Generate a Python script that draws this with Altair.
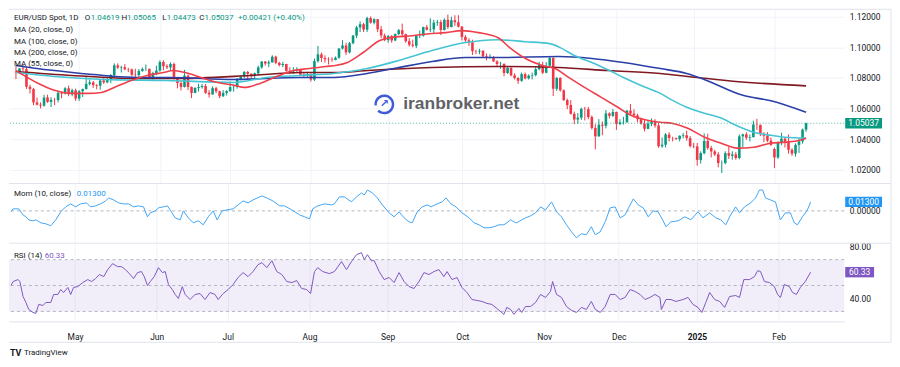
import altair as alt
import pandas as pd

FONT = "Roboto"
DARK = "#131722"
UP = "#089981"
DOWN = "#f23645"

# ---- daily candles (open, high, low, close), one small list per month ----
apr = [(1.0840,1.0876,1.0792,1.0837),(1.0837,1.0865,1.0826,1.0862),(1.0862,1.0885,1.0845,1.0857),
       (1.0857,1.0870,1.0728,1.0742),(1.0742,1.0756,1.0698,1.0727),(1.0727,1.0735,1.0622,1.0640),
       (1.0640,1.0672,1.0620,1.0625),(1.0625,1.0640,1.0601,1.0619),(1.0619,1.0690,1.0612,1.0672),
       (1.0672,1.0690,1.0637,1.0643),(1.0643,1.0674,1.0610,1.0656),(1.0656,1.0670,1.0622,1.0655),
       (1.0655,1.0713,1.0640,1.0702),(1.0702,1.0710,1.0666,1.0697),(1.0697,1.0740,1.0692,1.0732),
       (1.0732,1.0750,1.0680,1.0693),(1.0693,1.0730,1.0680,1.0719),(1.0719,1.0730,1.0650,1.0665)]
may = [(1.0665,1.0720,1.0650,1.0713),(1.0713,1.0730,1.0675,1.0727),(1.0727,1.0812,1.0725,1.0761),
       (1.0761,1.0790,1.0750,1.0771),(1.0771,1.0780,1.0735,1.0753),(1.0753,1.0760,1.0725,1.0749),
       (1.0749,1.0790,1.0723,1.0783),(1.0783,1.0805,1.0760,1.0771),(1.0771,1.0800,1.0765,1.0790),
       (1.0790,1.0825,1.0765,1.0819),(1.0819,1.0895,1.0812,1.0882),(1.0882,1.0895,1.0858,1.0867),
       (1.0867,1.0880,1.0835,1.0870),(1.0870,1.0890,1.0850,1.0857),(1.0857,1.0866,1.0838,1.0855),
       (1.0855,1.0862,1.0812,1.0821),(1.0821,1.0860,1.0806,1.0818),(1.0818,1.0858,1.0805,1.0846),
       (1.0846,1.0868,1.0840,1.0858),(1.0858,1.0888,1.0846,1.0859),(1.0859,1.0862,1.0790,1.0800),
       (1.0800,1.0840,1.0788,1.0832),(1.0832,1.0880,1.0818,1.0848)]
jun = [(1.0848,1.0915,1.0840,1.0904),(1.0904,1.0916,1.0850,1.0877),(1.0877,1.0890,1.0858,1.0869),
       (1.0869,1.0902,1.0852,1.0891),(1.0891,1.0900,1.0790,1.0800),(1.0800,1.0802,1.0732,1.0766),
       (1.0766,1.0780,1.0718,1.0741),(1.0741,1.0852,1.0737,1.0815),(1.0815,1.0823,1.0720,1.0741),
       (1.0741,1.0744,1.0668,1.0702),(1.0702,1.0740,1.0700,1.0734),(1.0734,1.0762,1.0711,1.0740),
       (1.0740,1.0760,1.0730,1.0747),(1.0747,1.0760,1.0695,1.0703),(1.0703,1.0720,1.0672,1.0692),
       (1.0692,1.0745,1.0690,1.0733),(1.0733,1.0742,1.0700,1.0713),(1.0713,1.0717,1.0667,1.0680),
       (1.0680,1.0720,1.0675,1.0702),(1.0702,1.0720,1.0685,1.0713)]
jul = [(1.0713,1.0776,1.0710,1.0740),(1.0740,1.0750,1.0710,1.0741),(1.0741,1.0800,1.0730,1.0791),
       (1.0791,1.0816,1.0785,1.0810),(1.0810,1.0845,1.0800,1.0839),(1.0839,1.0845,1.0790,1.0827),
       (1.0827,1.0830,1.0800,1.0813),(1.0813,1.0835,1.0800,1.0830),(1.0830,1.0880,1.0815,1.0869),
       (1.0869,1.0910,1.0860,1.0907),(1.0907,1.0910,1.0880,1.0894),(1.0894,1.0915,1.0870,1.0902),
       (1.0902,1.0948,1.0900,1.0939),(1.0939,1.0945,1.0890,1.0899),(1.0899,1.0905,1.0875,1.0884),
       (1.0884,1.0905,1.0870,1.0891),(1.0891,1.0892,1.0840,1.0846),(1.0846,1.0870,1.0825,1.0843),
       (1.0843,1.0870,1.0825,1.0850),(1.0850,1.0870,1.0840,1.0856),(1.0856,1.0860,1.0812,1.0821),
       (1.0821,1.0833,1.0800,1.0817),(1.0817,1.0840,1.0800,1.0825)]
aug = [(1.0825,1.0830,1.0776,1.0789),(1.0789,1.0927,1.0780,1.0910),(1.0910,1.1009,1.0900,1.0954),
       (1.0954,1.0966,1.0904,1.0930),(1.0930,1.0948,1.0900,1.0922),(1.0922,1.0935,1.0888,1.0920),
       (1.0920,1.0935,1.0905,1.0917),(1.0917,1.0940,1.0915,1.0932),(1.0932,1.0995,1.0925,1.0992),
       (1.0992,1.1047,1.0985,1.1012),(1.1012,1.1030,1.0950,1.0967),(1.0967,1.1035,1.0960,1.1027),
       (1.1027,1.1080,1.1020,1.1077),(1.1077,1.1140,1.1060,1.1130),(1.1130,1.1170,1.1100,1.1151),
       (1.1151,1.1160,1.1100,1.1116),(1.1116,1.1200,1.1100,1.1192),(1.1192,1.1202,1.1155,1.1161),
       (1.1161,1.1190,1.1150,1.1184),(1.1184,1.1185,1.1100,1.1118),(1.1118,1.1140,1.1060,1.1077),
       (1.1077,1.1090,1.1040,1.1047)]
sep = [(1.1047,1.1080,1.1030,1.1074),(1.1074,1.1080,1.1030,1.1045),(1.1045,1.1090,1.1040,1.1087),
       (1.1087,1.1120,1.1080,1.1112),(1.1112,1.1155,1.1070,1.1086),(1.1086,1.1090,1.1030,1.1040),
       (1.1040,1.1060,1.1005,1.1017),(1.1017,1.1050,1.1000,1.1010),(1.1010,1.1080,1.0995,1.1075),
       (1.1075,1.1110,1.1060,1.1076),(1.1076,1.1135,1.1070,1.1132),(1.1132,1.1147,1.1110,1.1115),
       (1.1115,1.1190,1.1100,1.1118),(1.1118,1.1180,1.1090,1.1161),(1.1161,1.1180,1.1140,1.1165),
       (1.1165,1.1180,1.1080,1.1113),(1.1113,1.1190,1.1110,1.1180),(1.1180,1.1214,1.1120,1.1133),
       (1.1133,1.1200,1.1130,1.1177),(1.1177,1.1210,1.1140,1.1164),(1.1164,1.1210,1.1130,1.1135)]
octo = [(1.1135,1.1140,1.1045,1.1068),(1.1068,1.1080,1.1030,1.1046),(1.1046,1.1060,1.1010,1.1032),
        (1.1032,1.1050,1.0950,1.0975),(1.0975,1.0985,1.0955,1.0973),(1.0973,1.0990,1.0955,1.0978),
        (1.0978,1.0980,1.0935,1.0941),(1.0941,1.0960,1.0915,1.0936),(1.0936,1.0955,1.0925,1.0937),
        (1.0937,1.0942,1.0905,1.0908),(1.0908,1.0915,1.0870,1.0891),(1.0891,1.0905,1.0860,1.0892),
        (1.0892,1.0895,1.0810,1.0832),(1.0832,1.0870,1.0825,1.0866),(1.0866,1.0868,1.0810,1.0817),
        (1.0817,1.0830,1.0790,1.0799),(1.0799,1.0805,1.0761,1.0781),(1.0781,1.0835,1.0775,1.0825),
        (1.0825,1.0835,1.0790,1.0797),(1.0797,1.0823,1.0790,1.0815),(1.0815,1.0835,1.0790,1.0818),
        (1.0818,1.0870,1.0810,1.0857),(1.0857,1.0905,1.0850,1.0885)]
nov = [(1.0885,1.0905,1.0825,1.0834),(1.0834,1.0903,1.0830,1.0880),(1.0880,1.0937,1.0870,1.0930),
       (1.0930,1.0935,1.0682,1.0729),(1.0729,1.0805,1.0715,1.0800),(1.0800,1.0805,1.0710,1.0719),
       (1.0719,1.0725,1.0650,1.0655),(1.0655,1.0665,1.0595,1.0623),(1.0623,1.0655,1.0560,1.0565),
       (1.0565,1.0580,1.0497,1.0528),(1.0528,1.0570,1.0500,1.0540),(1.0540,1.0605,1.0525,1.0598),
       (1.0598,1.0610,1.0522,1.0596),(1.0596,1.0610,1.0530,1.0544),(1.0544,1.0555,1.0462,1.0473),
       (1.0473,1.0497,1.0333,1.0418),(1.0418,1.0530,1.0415,1.0494),(1.0494,1.0515,1.0425,1.0487),
       (1.0487,1.0590,1.0470,1.0568),(1.0568,1.0575,1.0535,1.0552),(1.0552,1.0597,1.0545,1.0577)]
dec = [(1.0577,1.0580,1.0460,1.0499),(1.0499,1.0530,1.0490,1.0510),(1.0510,1.0545,1.0495,1.0512),
       (1.0512,1.0590,1.0505,1.0586),(1.0586,1.0630,1.0555,1.0567),(1.0567,1.0595,1.0540,1.0555),
       (1.0555,1.0565,1.0510,1.0530),(1.0530,1.0540,1.0495,1.0501),(1.0501,1.0525,1.0450,1.0467),
       (1.0467,1.0525,1.0465,1.0501),(1.0501,1.0535,1.0485,1.0515),(1.0515,1.0530,1.0475,1.0489),
       (1.0489,1.0507,1.0343,1.0353),(1.0353,1.0410,1.0343,1.0363),(1.0363,1.0440,1.0345,1.0430),
       (1.0430,1.0445,1.0385,1.0407),(1.0407,1.0415,1.0385,1.0406),(1.0406,1.0410,1.0395,1.0400),
       (1.0400,1.0425,1.0385,1.0421),(1.0421,1.0440,1.0405,1.0425),(1.0425,1.0455,1.0390,1.0406),
       (1.0406,1.0420,1.0345,1.0354)]
jan = [(1.0354,1.0375,1.0340,1.0352),(1.0352,1.0375,1.0226,1.0264),(1.0264,1.0320,1.0240,1.0308),
       (1.0308,1.0437,1.0300,1.0388),(1.0388,1.0435,1.0330,1.0342),(1.0342,1.0355,1.0280,1.0319),
       (1.0319,1.0330,1.0290,1.0300),(1.0300,1.0315,1.0215,1.0243),(1.0243,1.0260,1.0178,1.0244),
       (1.0244,1.0320,1.0235,1.0308),(1.0308,1.0350,1.0270,1.0291),(1.0291,1.0320,1.0265,1.0300),
       (1.0300,1.0315,1.0265,1.0276),(1.0276,1.0430,1.0268,1.0418),(1.0418,1.0435,1.0345,1.0431),
       (1.0431,1.0445,1.0395,1.0409),(1.0409,1.0430,1.0385,1.0413),(1.0413,1.0520,1.0410,1.0495),
       (1.0495,1.0533,1.0460,1.0493),(1.0493,1.0495,1.0420,1.0432),(1.0432,1.0445,1.0380,1.0422),
       (1.0422,1.0445,1.0380,1.0390),(1.0390,1.0410,1.0355,1.0362)]
feb = [(1.0335,1.0345,1.0210,1.0280),(1.0280,1.0385,1.0270,1.0375),(1.0375,1.0442,1.0360,1.0403),
       (1.0403,1.0410,1.0345,1.0382),(1.0382,1.0430,1.0305,1.0330),(1.0330,1.0340,1.0290,1.0305),
       (1.0305,1.0372,1.0285,1.0362),(1.0362,1.0405,1.0310,1.0385),(1.0385,1.0468,1.0370,1.04616),
       (1.04619,1.05065,1.04473,1.05037)]

# ---- moving averages: (bar index, value) ----
ma20 = [(0,1.0848),(6.4,1.0764),(11.2,1.0718),(16,1.0699),(20.4,1.0699),(24.4,1.0705),(28,1.0738),
        (32.8,1.0783),(37.3,1.0816),(42,1.0835),(44.8,1.0848),(48.2,1.0835),(52.7,1.0803),(57.4,1.0770),
        (62.2,1.0751),(65,1.0738),(69.5,1.0764),(74.2,1.0809),(79,1.0848),(83.5,1.0861),(88.2,1.0875),
        (91,1.0881),(94.4,1.0901),(98.9,1.0966),(103.6,1.1044),(106.4,1.1063),(112.9,1.1076),
        (117.6,1.1089),(122.4,1.1096),(126.9,1.1109),(131.7,1.1096),(137.3,1.1063),(140.6,1.0998),
        (145.1,1.0927),(149.9,1.0881),(153.5,1.0861),(157.4,1.0803),(161.9,1.0738),(166.7,1.0673),
        (171.4,1.0608),(175.1,1.0556),(179.8,1.0523),(183.5,1.0510),(186.8,1.0503),(191.3,1.0471),
        (196.1,1.0412),(200.8,1.0373),(205.3,1.0341),(210.1,1.0347),(214.8,1.0373),(219.3,1.0380),
        (223.2,1.0393),(225,1.0406)]
ma55 = [(0,1.0835),(11,1.0809),(25,1.0790),(43,1.0783),(62,1.0770),(71.4,1.0803),(81,1.0816),
        (90.5,1.0829),(100,1.0861),(109,1.0914),(118.5,1.0979),(128,1.1031),(137,1.1050),(145,1.1037),
        (152,1.1024),(155,1.0998),(159,1.0946),(164,1.0901),(169,1.0848),(173,1.0803),(178,1.0751),
        (183.5,1.0699),(187,1.0653),(191,1.0608),(196,1.0569),(201,1.0536),(205,1.0490),(210,1.0445),
        (215,1.0425),(219,1.0412),(225,1.0406)]
ma100 = [(0,1.0881),(6,1.0861),(16,1.0835),(25,1.0816),(34.5,1.0803),(43.4,1.0803),(62,1.0790),
         (81,1.0803),(90.5,1.0803),(100,1.0829),(109,1.0868),(118.5,1.0907),(128,1.0933),(137,1.0933),
         (154.6,1.0940),(164,1.0927),(173,1.0901),(183.5,1.0861),(191,1.0829),(196,1.0790),
         (207,1.0686),(215,1.0650),(225,1.0575)]
ma200 = [(0,1.0842),(16,1.0816),(34.5,1.0796),(45,1.0796),(66.7,1.0816),(81,1.0835),(91,1.0835),
         (100,1.0848),(118.5,1.0868),(137,1.0875),(154.6,1.0868),(168.6,1.0848),(183.5,1.0829),
         (194,1.0803),(205,1.0777),(225,1.0748)]

# ---- Momentum (10) and RSI (14) ----
mom = [(0,-0.0014),(0.6,0.0029),(2.2,0.0029),(3.4,-0.0058),(4.2,-0.0086),(5.0,-0.0130),(6.2,-0.0144),
       (7.0,-0.0130),(8.4,-0.0173),(9.8,-0.0187),(11.2,-0.0216),(12.6,-0.0130),(14.0,-0.0014),
       (15.4,0.0058),(16.8,0.0101),(18.2,0.0058),(19.6,0.0101),(21.3,0.0115),(22.4,0.0058),(23.8,0.0072),
       (25.2,0.0101),(26.6,0.0144),(27.5,0.0187),(28.9,0.0158),(30.3,0.0115),(31.7,0.0101),(33.1,0.0101),
       (34.5,0.0058),(35.9,0.0072),(37.3,0.0058),(38.4,-0.0086),(39.2,-0.0029),(40.6,0.0),(41.5,0.0043),
       (42.9,0.0058),(44.0,0.0072),(44.8,0.0014),(46.2,-0.0101),(47.6,-0.0130),(48.5,0.0),(49.9,-0.0101),
       (51.3,-0.0173),(52.7,-0.0144),(54.1,-0.0202),(55.5,-0.0086),(56.9,0.0),(58.0,-0.0130),(59.4,0.0),
       (60.8,0.0014),(62.5,0.0029),(63.9,0.0086),(65.3,0.0144),(66.7,0.0115),(68.1,0.0158),(70.6,0.0216),
       (72.0,0.0187),(73.7,0.0144),(75.6,0.0072),(77.0,0.0072),(79.0,0.0014),(81.2,-0.0058),(82.6,-0.0086),
       (84.0,-0.0115),(84.9,0.0029),(86.3,0.0072),(88.2,0.0101),(90.2,0.0086),(91.0,0.0101),(92.4,0.0202),
       (93.8,0.0202),(95.8,0.0130),(97.2,0.0202),(98.6,0.0259),(99.4,0.0230),(100.3,0.0302),(101.7,0.0259),
       (103.1,0.0187),(104.5,0.0086),(106.4,-0.0029),(107.8,-0.0086),(109.2,-0.0014),(110.6,-0.0101),
       (112.0,-0.0158),(112.9,-0.0173),(114.3,-0.0014),(115.7,0.0058),(117.1,0.0086),(118.2,0.0058),
       (119.9,0.0101),(121.3,0.0130),(122.4,0.0187),(123.8,0.0101),(125.2,0.0058),(126.9,-0.0029),
       (128.9,-0.0101),(130.3,-0.0173),(131.7,-0.0202),(133.1,-0.0245),(134.5,-0.0245),(135.9,-0.0230),
       (137.3,-0.0202),(138.7,-0.0202),(139.5,-0.0173),(140.6,-0.0130),(141.5,-0.0158),(142.3,-0.0173),
       (143.7,-0.0130),(144.8,-0.0101),(146.2,-0.0072),(147.6,-0.0029),(149.0,0.0058),(150.4,0.0014),
       (152.1,0.0130),(153.5,-0.0014),(154.9,-0.0086),(156.3,-0.0202),(157.7,-0.0302),(159.1,-0.0389),
       (160.5,-0.0331),(161.9,-0.0346),(163.3,-0.0230),(164.4,-0.0346),(165.8,-0.0302),(167.2,-0.0158),
       (168.6,0.0043),(170.0,0.0058),(171.4,-0.0101),(172.8,-0.0058),(174.2,0.0086),(175.1,0.0173),
       (176.5,0.0086),(177.9,0.0043),(179.3,-0.0086),(180.7,0.0),(182.1,-0.0014),(183.5,-0.0144),
       (184.3,-0.0230),(185.7,-0.0158),(187.7,-0.0144),(189.6,-0.0086),(191.3,-0.0130),(193.3,-0.0014),
       (194.7,-0.0101),(196.6,-0.0029),(198.3,-0.0101),(199.7,-0.0130),(201.1,-0.0202),(202.5,-0.0058),
       (203.9,0.0058),(205.0,-0.0029),(206.4,0.0058),(208.1,0.0115),(209.5,0.0187),(210.6,0.0302),
       (211.5,0.0302),(212.3,0.0187),(213.7,0.0158),(215.1,0.0130),(216.5,-0.0130),(217.9,-0.0029),
       (219.3,-0.0029),(220.4,-0.0173),(221.3,-0.0202),(222.7,-0.0086),(224.1,0.0014),(225,0.0130)]
rsi = [(0,50.0),(0.6,53.1),(2.0,54.6),(2.5,53.1),(3.4,41.5),(4.2,36.9),(5.0,31.5),(6.2,29.2),(7.0,28.5),
       (7.8,35.4),(9.0,34.6),(9.8,36.9),(11.2,36.9),(12.0,43.1),(13.2,43.1),(14.0,46.9),(14.8,44.6),
       (16.0,48.5),(16.8,43.1),(17.6,48.5),(18.8,49.2),(20.2,52.3),(21.6,54.6),(22.7,53.1),(23.8,55.4),
       (24.9,58.5),(26.1,56.9),(27.2,62.3),(28.6,66.9),(30.0,64.6),(31.1,64.6),(32.2,62.3),(33.3,59.2),
       (34.5,55.4),(35.6,60.0),(36.7,60.8),(37.5,56.9),(38.4,50.0),(39.2,53.1),(40.3,56.9),(41.5,63.8),
       (42.6,60.0),(43.4,60.8),(44.3,50.8),(45.4,46.9),(46.2,43.1),(47.1,40.0),(48.2,49.2),(49.0,43.1),
       (50.4,39.2),(51.8,43.1),(53.2,43.8),(54.6,39.2),(56.0,44.6),(57.4,43.1),(58.3,39.2),(59.7,43.8),
       (61.1,46.9),(62.5,50.8),(63.9,56.2),(65.3,60.0),(66.7,56.9),(68.1,60.8),(69.5,66.1),(70.6,67.7),
       (72.0,63.8),(73.4,69.2),(74.8,60.8),(76.2,58.5),(77.6,53.1),(79.0,52.3),(80.4,53.8),(81.8,47.7),
       (83.2,46.9),(84.3,43.8),(85.4,60.8),(86.3,63.8),(87.7,60.8),(89.6,59.2),(91.0,60.8),(93.0,68.5),
       (94.4,62.3),(95.8,68.5),(97.2,73.8),(98.6,75.4),(99.4,70.0),(100.3,73.8),(101.4,69.2),(102.2,69.2),
       (103.6,60.8),(105.0,54.6),(106.4,56.2),(107.8,52.3),(109.2,60.0),(110.6,53.1),(112.0,49.2),
       (113.4,47.7),(114.8,53.1),(116.2,60.0),(117.6,58.5),(119.0,60.8),(120.4,62.3),(121.8,56.9),
       (122.7,60.8),(124.1,54.6),(125.5,56.2),(126.9,48.5),(128.3,44.6),(129.7,39.2),(131.1,38.5),
       (132.5,37.7),(133.9,36.2),(135.3,35.4),(136.7,32.3),(138.7,27.7),(139.5,33.1),(140.6,31.5),
       (141.5,27.7),(142.9,32.3),(143.7,29.2),(144.8,33.8),(146.2,33.8),(147.6,36.9),(149.0,43.1),
       (150.4,40.8),(151.8,45.4),(152.4,53.1),(153.5,43.1),(154.9,40.8),(156.3,33.8),(157.7,30.8),
       (159.1,29.2),(160.5,33.1),(161.9,31.5),(163.3,37.7),(164.4,31.5),(165.8,29.2),(167.2,33.8),
       (168.6,43.1),(170.0,43.1),(171.4,39.2),(172.8,40.8),(174.2,46.9),(175.6,45.4),(177.0,43.1),
       (178.4,39.2),(179.8,40.8),(181.2,43.1),(182.6,40.8),(183.0,31.5),(184.3,39.2),(185.7,39.2),
       (187.1,37.7),(189.1,39.2),(190.5,40.8),(191.9,35.4),(193.3,33.1),(194.4,29.2),(195.5,36.9),
       (196.6,44.6),(198.0,39.2),(199.4,37.7),(200.8,33.1),(202.2,41.5),(203.9,42.3),(205.0,40.8),
       (206.2,54.6),(207.8,54.6),(209.2,56.9),(210.1,61.5),(210.9,60.8),(212.0,53.1),(213.4,52.3),
       (214.8,49.2),(215.7,43.1),(216.5,40.8),(217.6,50.8),(219.0,49.2),(219.9,44.6),(221.0,43.1),
       (222.1,48.5),(223.5,53.1),(225,60.33)]

# ---- axis ticks ----
tick_idx = [18, 41, 61, 84, 106, 127, 150, 171, 193, 216]
tick_lab = ["May", "Jun", "Jul", "Aug", "Sep", "Oct", "Nov", "Dec", "2025", "Feb"]
price_ticks = [1.02, 1.04, 1.06, 1.08, 1.10, 1.12]
last_price = 1.05037
last_mom = 0.013
last_rsi = 60.33

# ---- build tables ----
rows = apr + may + jun + jul + aug + sep + octo + nov + dec + jan + feb
candles = pd.DataFrame(rows, columns=["o", "h", "l", "c"])
candles["i"] = range(len(candles))
candles["dir"] = ["up" if c >= o else "down" for o, c in zip(candles["o"], candles["c"])]

def line_df(pairs):
    return pd.DataFrame(pairs, columns=["i", "v"])

W = 839
H_MAIN, H_MOM, H_RSI = 175, 60, 79
GRID = "#f0f3fa"
BORDER = "#e0e3eb"
LF = 8  # legend font size

xs = alt.Scale(domain=[-0.56, 234.45], nice=False, zero=False)
label_expr = " : ".join(f"datum.value == {v} ? '{t}'" for v, t in zip(tick_idx, tick_lab)) + " : ''"
x_grid = alt.Axis(values=tick_idx, labels=False, ticks=False, domain=False, grid=True,
                  gridColor=GRID, title=None)
x_bottom = alt.Axis(values=tick_idx, labelExpr=label_expr, ticks=False, domain=True,
                    domainColor=BORDER, grid=True, gridColor=GRID, title=None, labelPadding=11,
                    labelFontSize=8.5, labelColor=DARK, labelFont=FONT,
                    labelFontWeight={"condition": {"test": "datum.value == 193", "value": "bold"},
                                     "value": "normal"})

ys_main = alt.Scale(domain=[1.01128, 1.1252], nice=False, zero=False)
y_main_axis = alt.Axis(orient="right", values=price_ticks, format=".5f", ticks=False, domain=False,
                       grid=True, gridColor=GRID, labelPadding=5, labelFontSize=8.5,
                       labelColor=DARK, labelFont=FONT, title=None)

def ym(field):
    return alt.Y(field, type="quantitative", scale=ys_main, axis=y_main_axis, title=None)

def xq(axis):
    return alt.X("i:Q", scale=xs, axis=axis, title=None)

def txt(s, x, y, color=DARK, size=LF, weight="normal", align="left", font=FONT):
    return alt.Chart(pd.DataFrame({"t": [s]})).mark_text(
        align=align, baseline="middle", color=color, fontSize=size, fontWeight=weight, font=font
    ).encode(x=alt.value(x), y=alt.value(y), text="t:N")

def border(h, y0=0.5):
    return alt.Chart(pd.DataFrame({"a": [0]})).mark_rule(color=BORDER, strokeWidth=1).encode(
        x=alt.value(W + 47), y=alt.value(y0), y2=alt.value(h))

color_enc = alt.Color("dir:N", scale=alt.Scale(domain=["up", "down"], range=[UP, DOWN]), legend=None)

# ---- main panel ----
wicks = alt.Chart(candles).mark_rule(strokeWidth=1).encode(x=xq(x_grid), y=ym("l"), y2="h", color=color_enc)
bodies = alt.Chart(candles).mark_bar(size=2.6).encode(x=xq(x_grid), y=ym("o"), y2="c", color=color_enc)

def ma_line(pairs, color, width=1.6):
    return alt.Chart(line_df(pairs)).mark_line(color=color, strokeWidth=width, interpolate="monotone").encode(
        x=xq(x_grid), y=ym("v"))

lp = pd.DataFrame({"p": [last_price], "t": [f"{last_price:.5f}"]})
last_rule = alt.Chart(lp).mark_rule(color=UP, strokeDash=[1, 2], strokeWidth=1, opacity=0.7).encode(y=ym("p"))
price_box = alt.Chart(lp).mark_point(shape="M-1,-0.28L1,-0.28L1,0.28L-1,0.28Z", filled=True, color=UP,
                                     opacity=1, size=37 * 37).encode(y=ym("p"), x=alt.value(W + 19.5))
price_txt = alt.Chart(lp).mark_text(color="white", fontSize=8.5, font=FONT, align="center",
                                    baseline="middle").encode(y=ym("p"), x=alt.value(W + 19.5), text="t:N")

legend = [
    txt("EUR/USD Spot, 1D", 5, 9),
    txt("O", 76, 9), txt("1.04619", 82, 9, UP),
    txt("H", 113, 9), txt("1.05065", 118.5, 9, UP),
    txt("L", 154, 9), txt("1.04473", 158.5, 9, UP),
    txt("C", 191, 9), txt("1.05037", 196.5, 9, UP),
    txt("+0.00421 (+0.40%)", 230, 9, UP),
    txt("MA (20, close, 0)", 5, 21),
    txt("MA (100, close, 0)", 5, 33),
    txt("MA (200, close, 0)", 5, 44),
    txt("MA (55, close, 0)", 5, 55),
]
ring = alt.Chart(pd.DataFrame({"a": [0]})).mark_arc(
    innerRadius=7.5, outerRadius=10, theta=4.6, theta2=10.2, color="#3f5bd8").encode(
    x=alt.value(377), y=alt.value(96))
watermark = [ring,
             txt("↗", 377, 96, "#3f5bd8", 11, "bold", "center", "DejaVu Sans"),
             txt("iranbroker.net", 396, 96, "#5f6368", 17.5, "bold", "left", "Liberation Sans")]
top_line = alt.Chart(pd.DataFrame({"a": [0]})).mark_rule(color=BORDER).encode(
    x=alt.value(0), x2=alt.value(W + 47), y=alt.value(0.5))

main = alt.layer(
    wicks, bodies,
    ma_line(ma200, "#801922"), ma_line(ma100, "#2a3fa8"), ma_line(ma55, "#45c4d3"), ma_line(ma20, "#ee3f4b"),
    last_rule, price_box, price_txt, *legend, *watermark, top_line, border(H_MAIN)
).properties(width=W, height=H_MAIN)

# ---- momentum panel ----
ys_mom = alt.Scale(domain=[-0.0461, 0.0403], nice=False, zero=False)
y_mom_axis = alt.Axis(orient="right", values=[0.0], format=".5f", ticks=False, domain=False, grid=False,
                      labelPadding=5, labelFontSize=8.5, labelColor=DARK, labelFont=FONT, title=None)

def ymo(field):
    return alt.Y(field, type="quantitative", scale=ys_mom, axis=y_mom_axis, title=None)

mom_line = alt.Chart(line_df(mom)).mark_line(color="#42a5f5", strokeWidth=1).encode(x=xq(x_grid), y=ymo("v"))
mom_zero = alt.Chart(pd.DataFrame({"v": [0.0]})).mark_rule(color="#b2b5be", strokeDash=[3, 3]).encode(y=ymo("v"))
mlp = pd.DataFrame({"v": [last_mom], "t": [f"{last_mom:.5f}"]})
mom_box = alt.Chart(mlp).mark_point(shape="M-1,-0.28L1,-0.28L1,0.28L-1,0.28Z", filled=True, color="#2196f3",
                                    opacity=1, size=37 * 37).encode(y=ymo("v"), x=alt.value(W + 19.5))
mom_txt = alt.Chart(mlp).mark_text(color="white", fontSize=8.5, font=FONT, align="center",
                                   baseline="middle").encode(y=ymo("v"), x=alt.value(W + 19.5), text="t:N")
sep_line = alt.Chart(pd.DataFrame({"a": [0]})).mark_rule(color=BORDER).encode(
    x=alt.value(0), x2=alt.value(W + 47), y=alt.value(0.5))
mom_panel = alt.layer(
    mom_zero, mom_line, mom_box, mom_txt,
    txt("Mom (10, close)", 5, 11), txt("0.01300", 68, 11, "#2196f3"),
    sep_line, border(H_MOM)
).properties(width=W, height=H_MOM)

# ---- RSI panel ----
ys_rsi = alt.Scale(domain=[22.3, 83.07], nice=False, zero=False)
y_rsi_axis = alt.Axis(orient="right", values=[40, 80], format=".2f", ticks=False, domain=False, grid=False,
                      labelPadding=5, labelFontSize=8.5, labelColor=DARK, labelFont=FONT, title=None)

def yr(field):
    return alt.Y(field, type="quantitative", scale=ys_rsi, axis=y_rsi_axis, title=None)

band = alt.Chart(pd.DataFrame({"lo": [30], "hi": [70]})).mark_rect(color="#7e57c2", opacity=0.1).encode(
    y=yr("hi"), y2="lo")
levels = alt.Chart(pd.DataFrame({"v": [70, 50, 30]})).mark_rule(color="#b2b5be", strokeDash=[3, 3]).encode(
    y=yr("v"))
rsi_line = alt.Chart(line_df(rsi)).mark_line(color="#7e57c2", strokeWidth=1).encode(
    x=xq(x_bottom), y=yr("v"))
rlp = pd.DataFrame({"v": [last_rsi], "t": [f"{last_rsi:.2f}"]})
rsi_box = alt.Chart(rlp).mark_point(shape="M-1,-0.36L1,-0.36L1,0.36L-1,0.36Z", filled=True, color="#7e57c2",
                                    opacity=1, size=29 * 29).encode(y=yr("v"), x=alt.value(W + 15.5))
rsi_txt = alt.Chart(rlp).mark_text(color="white", fontSize=8.5, font=FONT, align="center",
                                   baseline="middle").encode(y=yr("v"), x=alt.value(W + 15.5), text="t:N")
bottom_line = alt.Chart(pd.DataFrame({"a": [0]})).mark_rule(color=BORDER).encode(
    x=alt.value(0), x2=alt.value(W + 47), y=alt.value(100))
rsi_panel = alt.layer(
    band, levels, rsi_line, rsi_box, rsi_txt,
    txt("RSI (14)", 5, 13), txt("60.33", 36, 13, "#7e57c2"),
    sep_line, border(100), bottom_line,
    txt("TV", 1, 111, DARK, 9, "bold"), txt("TradingView", 15, 111, DARK, 8),
).properties(width=W, height=H_RSI)

chart = alt.vconcat(main, mom_panel, rsi_panel, spacing=0, bounds="flush").properties(
    padding=0).configure_view(stroke=None)
chart.save("out.html", embed_options={"renderer": "svg", "actions": False})
